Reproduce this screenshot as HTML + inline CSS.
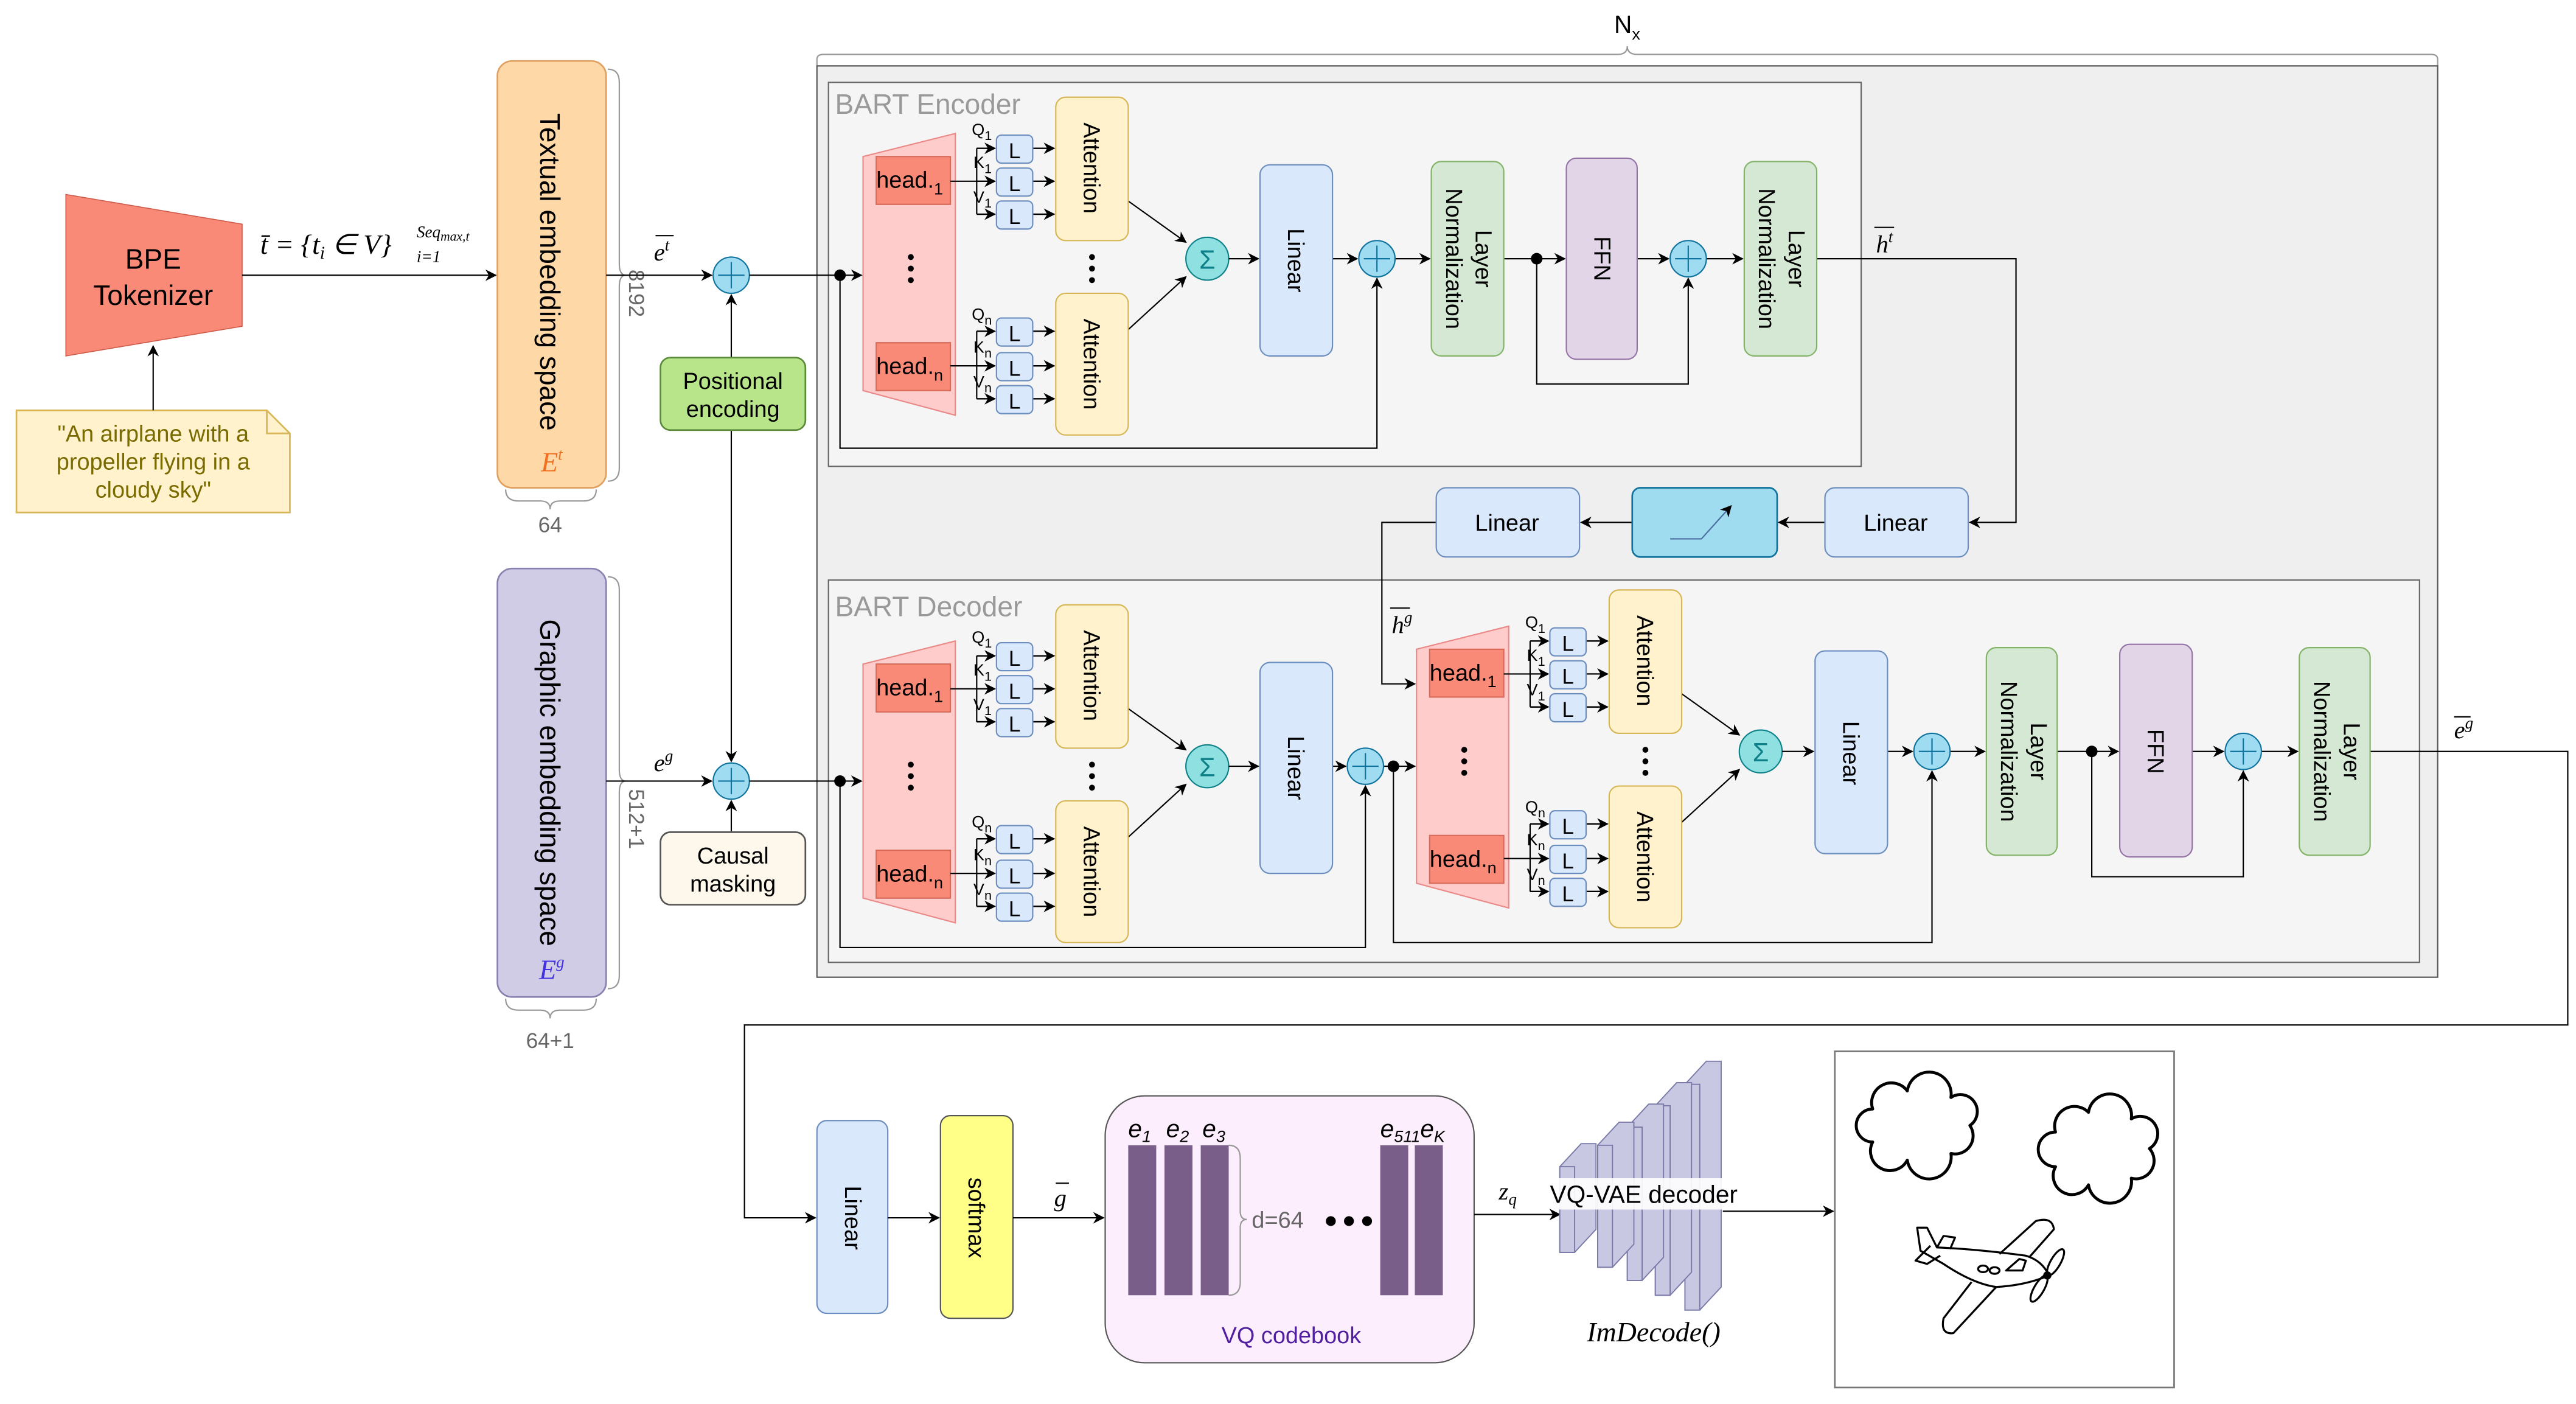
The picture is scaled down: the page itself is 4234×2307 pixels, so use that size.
<!DOCTYPE html>
<html><head><meta charset="utf-8"><style>
html,body{margin:0;padding:0;background:#fff}
svg{display:block}
text{font-family:"Liberation Sans",sans-serif}
.m{font-family:"Liberation Serif",serif;font-style:italic}
</style></head><body>
<svg width="4234" height="2307" viewBox="0 0 1564 852" preserveAspectRatio="none" xmlns="http://www.w3.org/2000/svg">
<defs>
<marker id="a" viewBox="0 0 10 10" refX="9" refY="5" markerWidth="7" markerHeight="7" markerUnits="userSpaceOnUse" orient="auto"><path d="M0,0 L10,5 L0,10 L3,5 z" fill="#000"/></marker>
<g id="blk">
 <polygon points="524,95 580,81 580,252 524,237" fill="#ffcccc" stroke="#ea8a88" stroke-width="0.8"/>
 <rect x="532" y="95" width="45" height="29" fill="#f88a77" stroke="#d86a5a" stroke-width="0.8"/>
 <rect x="532" y="208" width="45" height="29" fill="#f88a77" stroke="#d86a5a" stroke-width="0.8"/>
 <text x="532" y="114" font-size="14">head.<tspan font-size="10" dy="4">1</tspan></text>
 <text x="532" y="227" font-size="14">head.<tspan font-size="10" dy="4">n</tspan></text>
 <circle cx="553" cy="156" r="1.8"/><circle cx="553" cy="163" r="1.8"/><circle cx="553" cy="170" r="1.8"/>
 <g stroke="#000" stroke-width="0.8" fill="none">
  <path d="M577,110 H593 M593,90 V130 M577,222 H593 M593,201 V242"/>
  <path d="M593,90 H604 M593,110 H604 M593,130 H604 M593,201 H604 M593,222 H604 M593,242 H604 M627,90 H640 M627,110 H640 M627,130 H640 M627,201 H640 M627,222 H640 M627,242 H640" marker-end="url(#a)"/>
 </g>
 <g stroke="#000" stroke-width="0.8" marker-end="url(#a)">
  <line x1="593" y1="90" x2="604" y2="90"/><line x1="593" y1="110" x2="604" y2="110"/><line x1="593" y1="130" x2="604" y2="130"/>
  <line x1="593" y1="201" x2="604" y2="201"/><line x1="593" y1="222" x2="604" y2="222"/><line x1="593" y1="242" x2="604" y2="242"/>
  <line x1="627" y1="90" x2="640" y2="90"/><line x1="627" y1="110" x2="640" y2="110"/><line x1="627" y1="130" x2="640" y2="130"/>
  <line x1="627" y1="201" x2="640" y2="201"/><line x1="627" y1="222" x2="640" y2="222"/><line x1="627" y1="242" x2="640" y2="242"/>
  <line x1="685" y1="122" x2="720" y2="147"/><line x1="685" y1="200" x2="720" y2="168"/>
 </g>
 <g fill="#dae8fc" stroke="#6c8ebf" stroke-width="0.8">
  <rect x="605" y="82" width="22" height="17" rx="3"/><rect x="605" y="102" width="22" height="17" rx="3"/><rect x="605" y="122" width="22" height="17" rx="3"/>
  <rect x="605" y="193" width="22" height="17" rx="3"/><rect x="605" y="214" width="22" height="17" rx="3"/><rect x="605" y="234" width="22" height="17" rx="3"/>
 </g>
 <g font-size="13" text-anchor="middle">
  <text x="616" y="96">L</text><text x="616" y="116">L</text><text x="616" y="136">L</text>
  <text x="616" y="207">L</text><text x="616" y="228">L</text><text x="616" y="248">L</text>
 </g>
 <g font-size="10">
  <text x="590" y="82">Q<tspan font-size="8" dy="3">1</tspan></text>
  <text x="591" y="102">K<tspan font-size="8" dy="3">1</tspan></text>
  <text x="591" y="123">V<tspan font-size="8" dy="3">1</tspan></text>
  <text x="590" y="194">Q<tspan font-size="8" dy="3">n</tspan></text>
  <text x="591" y="214">K<tspan font-size="8" dy="3">n</tspan></text>
  <text x="591" y="235">V<tspan font-size="8" dy="3">n</tspan></text>
 </g>
 <rect x="641" y="59" width="44" height="87" rx="6" fill="#fff2cc" stroke="#d6b656" stroke-width="0.8"/>
 <rect x="641" y="178" width="44" height="86" rx="6" fill="#fff2cc" stroke="#d6b656" stroke-width="0.8"/>
 <text transform="translate(658,102) rotate(90)" font-size="14" text-anchor="middle">Attention</text>
 <text transform="translate(658,221) rotate(90)" font-size="14" text-anchor="middle">Attention</text>
 <circle cx="663" cy="156" r="1.8"/><circle cx="663" cy="163" r="1.8"/><circle cx="663" cy="170" r="1.8"/>
 <circle cx="733" cy="157" r="13" fill="#8fe0e0" stroke="#0e8088" stroke-width="0.8"/>
 <text x="733" y="163" font-size="16" text-anchor="middle" fill="#0e8088">Σ</text>
</g>
<g id="plus"><circle cx="0" cy="0" r="11" fill="#9fdcf2" stroke="#10739e" stroke-width="0.8"/><path d="M-8,0 H8 M0,-8 V8" stroke="#10739e" stroke-width="0.8"/></g>
</defs>

<!-- BPE + note -->
<polygon points="40,118 147,136 147,198 40,216" fill="#f98a78" stroke="#d05a4a" stroke-width="0.6"/>
<text x="93" y="163" font-size="17" text-anchor="middle">BPE</text>
<text x="93" y="185" font-size="17" text-anchor="middle">Tokenizer</text>
<path d="M10,249 H162 L176,263 V311 H10 Z" fill="#fff2cc" stroke="#d6b656"/>
<path d="M162,249 V263 H176" fill="none" stroke="#d6b656"/>
<g font-size="14" text-anchor="middle" fill="#7a6b00">
<text x="93" y="268">"An airplane with a</text><text x="93" y="285">propeller flying in a</text><text x="93" y="302">cloudy sky"</text></g>
<line x1="93" y1="249" x2="93" y2="210" stroke="#000" stroke-width="0.8" marker-end="url(#a)"/>
<line x1="147" y1="167" x2="301" y2="167" stroke="#000" stroke-width="0.8" marker-end="url(#a)"/>
<text x="158" y="154" font-size="17" class="m">t̄ = {t<tspan font-size="11" dy="3">i</tspan><tspan dy="-3"> ∈ V}</tspan></text>
<text x="253" y="144" font-size="10" class="m">Seq<tspan font-size="8" dy="2">max,t</tspan></text>
<text x="253" y="159" font-size="10" class="m">i=1</text>

<!-- textual embedding -->
<rect x="302" y="37" width="66" height="259" rx="9" fill="#ffd8a8" stroke="#e0a060"/>
<text transform="translate(328,165) rotate(90)" font-size="17" text-anchor="middle">Textual embedding space</text>
<text x="335" y="286" font-size="17" class="m" fill="#f07020" text-anchor="middle">E<tspan font-size="10" dy="-7">t</tspan></text>
<path d="M369,42 Q376,42 376,50 V160 Q376,167 380,167 Q376,167 376,174 V284 Q376,292 369,292" fill="none" stroke="#999" stroke-width="0.8"/>
<text transform="translate(382,178) rotate(90)" font-size="13" fill="#666" text-anchor="middle">8192</text>
<path d="M307,297 Q307,304 315,304 H328 Q334,304 334,309 Q334,304 340,304 H354 Q362,304 362,297" fill="none" stroke="#999" stroke-width="0.8"/>
<text x="334" y="323" font-size="13" fill="#666" text-anchor="middle">64</text>

<!-- graphic embedding -->
<rect x="302" y="345" width="66" height="260" rx="9" fill="#d0cce6" stroke="#8a80b0"/>
<text transform="translate(328,475) rotate(90)" font-size="17" text-anchor="middle">Graphic embedding space</text>
<text x="335" y="594" font-size="17" class="m" fill="#4030e0" text-anchor="middle">E<tspan font-size="10" dy="-7">g</tspan></text>
<path d="M369,350 Q376,350 376,358 V467 Q376,474 380,474 Q376,474 376,481 V592 Q376,600 369,600" fill="none" stroke="#999" stroke-width="0.8"/>
<text transform="translate(382,497) rotate(90)" font-size="13" fill="#666" text-anchor="middle">512+1</text>
<path d="M307,606 Q307,613 315,613 H328 Q334,613 334,618 Q334,613 340,613 H354 Q362,613 362,606" fill="none" stroke="#999" stroke-width="0.8"/>
<text x="334" y="636" font-size="13" fill="#666" text-anchor="middle">64+1</text>

<!-- pos enc / causal -->
<g stroke="#000" stroke-width="0.8" fill="none">
<line x1="368" y1="167" x2="432" y2="167" marker-end="url(#a)"/>
<line x1="368" y1="474" x2="432" y2="474" marker-end="url(#a)"/>
<line x1="444" y1="217" x2="444" y2="179" marker-end="url(#a)"/>
<line x1="444" y1="261" x2="444" y2="462" marker-end="url(#a)"/>
<line x1="444" y1="505" x2="444" y2="486" marker-end="url(#a)"/>
</g>
<text x="397" y="158" font-size="15" class="m">e<tspan font-size="10" dy="-6">t</tspan></text>
<line x1="398" y1="143" x2="409" y2="143" stroke="#000" stroke-width="0.8"/>
<text x="397" y="468" font-size="15" class="m">e<tspan font-size="10" dy="-6">g</tspan></text>
<rect x="401" y="217" width="88" height="44" rx="6" fill="#b9e58a" stroke="#5a8a3a"/>
<text x="445" y="236" font-size="14" text-anchor="middle">Positional</text>
<text x="445" y="253" font-size="14" text-anchor="middle">encoding</text>
<rect x="401" y="505" width="88" height="44" rx="6" fill="#fdf7ec" stroke="#555"/>
<text x="445" y="524" font-size="14" text-anchor="middle">Causal</text>
<text x="445" y="541" font-size="14" text-anchor="middle">masking</text>

<!-- Outer Nx box -->
<path d="M496,40 V36 Q496,33 500,33 H982 Q988,33 988,28 Q988,33 994,33 H1476 Q1480,33 1480,36 V40" fill="none" stroke="#999" stroke-width="0.8"/>
<text x="980" y="20" font-size="15">N<tspan font-size="10" dy="4">x</tspan></text>
<rect x="496" y="40" width="984" height="553" fill="#efefef" stroke="#555" stroke-width="0.8"/>
<rect x="503" y="50" width="627" height="233" fill="#f5f5f5" stroke="#666" stroke-width="0.8"/>
<text x="507" y="69" font-size="17" fill="#999">BART Encoder</text>
<rect x="503" y="352" width="966" height="232" fill="#f5f5f5" stroke="#666" stroke-width="0.8"/>
<text x="507" y="374" font-size="17" fill="#999">BART Decoder</text>

<!-- Plus circles -->
<use href="#plus" x="444" y="167"/><use href="#plus" x="444" y="474"/>

<!-- Encoder -->
<use href="#blk"/>
<g stroke="#000" stroke-width="0.8" fill="none">
<line x1="455" y1="167" x2="523" y2="167" marker-end="url(#a)"/>
<path d="M510,167 V272 H836 V169" marker-end="url(#a)"/>
<line x1="746" y1="157" x2="764" y2="157" marker-end="url(#a)"/>
<line x1="809" y1="157" x2="824" y2="157" marker-end="url(#a)"/>
<line x1="847" y1="157" x2="868" y2="157" marker-end="url(#a)"/>
<line x1="913" y1="157" x2="950" y2="157" marker-end="url(#a)"/>
<path d="M933,157 V233 H1025 V169" marker-end="url(#a)"/>
<line x1="994" y1="157" x2="1013" y2="157" marker-end="url(#a)"/>
<line x1="1036" y1="157" x2="1058" y2="157" marker-end="url(#a)"/>
<path d="M1103,157 H1224 V317 H1196" marker-end="url(#a)"/>
<line x1="1108" y1="317" x2="1080" y2="317" marker-end="url(#a)"/>
<line x1="991" y1="317" x2="960" y2="317" marker-end="url(#a)"/>
<path d="M872,317 H839 V415 H859" marker-end="url(#a)"/>
</g>
<circle cx="510" cy="167" r="3.5"/><circle cx="933" cy="157" r="3.5"/>
<rect x="765" y="100" width="44" height="116" rx="6" fill="#dae8fc" stroke="#6c8ebf" stroke-width="0.8"/>
<text transform="translate(782,158) rotate(90)" font-size="14" text-anchor="middle">Linear</text>
<use href="#plus" x="836" y="157"/>
<rect x="869" y="98" width="44" height="118" rx="6" fill="#d5e8d4" stroke="#82b366" stroke-width="0.8"/>
<text transform="translate(896,157) rotate(90)" font-size="14" text-anchor="middle">Layer</text>
<text transform="translate(878,157) rotate(90)" font-size="14" text-anchor="middle">Normalization</text>
<rect x="951" y="96" width="43" height="122" rx="6" fill="#e1d5e7" stroke="#9673a6" stroke-width="0.8"/>
<text transform="translate(968,157) rotate(90)" font-size="14" text-anchor="middle">FFN</text>
<use href="#plus" x="1025" y="157"/>
<rect x="1059" y="98" width="44" height="118" rx="6" fill="#d5e8d4" stroke="#82b366" stroke-width="0.8"/>
<text transform="translate(1086,157) rotate(90)" font-size="14" text-anchor="middle">Layer</text>
<text transform="translate(1068,157) rotate(90)" font-size="14" text-anchor="middle">Normalization</text>
<text x="1139" y="153" font-size="15" class="m">h<tspan font-size="10" dy="-6">t</tspan></text>
<line x1="1138" y1="138" x2="1150" y2="138" stroke="#000" stroke-width="0.8"/>

<!-- middle linear/relu -->
<rect x="1108" y="296" width="87" height="42" rx="6" fill="#dae8fc" stroke="#6c8ebf" stroke-width="0.8"/>
<text x="1151" y="322" font-size="14" text-anchor="middle">Linear</text>
<rect x="991" y="296" width="88" height="42" rx="5" fill="#a0dcf0" stroke="#10739e" stroke-width="1"/>
<path d="M1014,327 H1033 L1051,307" fill="none" stroke="#4a6ea0" stroke-width="0.8" marker-end="url(#a)"/>
<rect x="872" y="296" width="87" height="42" rx="6" fill="#dae8fc" stroke="#6c8ebf" stroke-width="0.8"/>
<text x="915" y="322" font-size="14" text-anchor="middle">Linear</text>
<text x="845" y="384" font-size="15" class="m">h<tspan font-size="10" dy="-6">g</tspan></text>
<line x1="844" y1="369" x2="856" y2="369" stroke="#000" stroke-width="0.8"/>

<!-- Decoder block 1 -->
<use href="#blk" y="308"/>
<g stroke="#000" stroke-width="0.8" fill="none">
<line x1="455" y1="474" x2="523" y2="474" marker-end="url(#a)"/>
<path d="M510,474 V575 H829 V477" marker-end="url(#a)"/>
<line x1="746" y1="465" x2="764" y2="465" marker-end="url(#a)"/>
<line x1="809" y1="465" x2="817" y2="465" marker-end="url(#a)"/>
<line x1="840" y1="465" x2="859" y2="465" marker-end="url(#a)"/>
<path d="M846,465 V572 H1173 V468" marker-end="url(#a)"/>
</g>
<circle cx="510" cy="474" r="3.5"/><circle cx="846" cy="465" r="3.5"/>
<rect x="765" y="402" width="44" height="128" rx="6" fill="#dae8fc" stroke="#6c8ebf" stroke-width="0.8"/>
<text transform="translate(782,466) rotate(90)" font-size="14" text-anchor="middle">Linear</text>
<use href="#plus" x="829" y="465"/>

<!-- Decoder block 2 -->
<use href="#blk" transform="translate(336,299)"/>
<g stroke="#000" stroke-width="0.8" fill="none">
<line x1="1082" y1="456" x2="1101" y2="456" marker-end="url(#a)"/>
<line x1="1146" y1="456" x2="1161" y2="456" marker-end="url(#a)"/>
<line x1="1184" y1="456" x2="1205" y2="456" marker-end="url(#a)"/>
<line x1="1249" y1="456" x2="1286" y2="456" marker-end="url(#a)"/>
<path d="M1270,456 V532 H1362 V468" marker-end="url(#a)"/>
<line x1="1331" y1="456" x2="1350" y2="456" marker-end="url(#a)"/>
<line x1="1373" y1="456" x2="1395" y2="456" marker-end="url(#a)"/>
<path d="M1439,456 H1559 V622 H452 V739 H495" marker-end="url(#a)"/>
</g>
<circle cx="1270" cy="456" r="3.5"/>
<rect x="1102" y="395" width="44" height="123" rx="6" fill="#dae8fc" stroke="#6c8ebf" stroke-width="0.8"/>
<text transform="translate(1119,457) rotate(90)" font-size="14" text-anchor="middle">Linear</text>
<use href="#plus" x="1173" y="456"/>
<rect x="1206" y="393" width="43" height="126" rx="6" fill="#d5e8d4" stroke="#82b366" stroke-width="0.8"/>
<text transform="translate(1233,456) rotate(90)" font-size="14" text-anchor="middle">Layer</text>
<text transform="translate(1215,456) rotate(90)" font-size="14" text-anchor="middle">Normalization</text>
<rect x="1287" y="391" width="44" height="129" rx="6" fill="#e1d5e7" stroke="#9673a6" stroke-width="0.8"/>
<text transform="translate(1304,456) rotate(90)" font-size="14" text-anchor="middle">FFN</text>
<use href="#plus" x="1362" y="456"/>
<rect x="1396" y="393" width="43" height="126" rx="6" fill="#d5e8d4" stroke="#82b366" stroke-width="0.8"/>
<text transform="translate(1423,456) rotate(90)" font-size="14" text-anchor="middle">Layer</text>
<text transform="translate(1405,456) rotate(90)" font-size="14" text-anchor="middle">Normalization</text>
<text x="1490" y="448" font-size="15" class="m">e<tspan font-size="10" dy="-6">g</tspan></text>
<line x1="1490" y1="435" x2="1500" y2="435" stroke="#000" stroke-width="0.8"/>

<!-- Bottom row -->
<rect x="496" y="680" width="43" height="117" rx="6" fill="#dae8fc" stroke="#6c8ebf" stroke-width="0.8"/>
<text transform="translate(513,739) rotate(90)" font-size="14" text-anchor="middle">Linear</text>
<line x1="539" y1="739" x2="570" y2="739" stroke="#000" stroke-width="0.8" marker-end="url(#a)"/>
<rect x="571" y="677" width="44" height="123" rx="6" fill="#ffff88" stroke="#555" stroke-width="0.8"/>
<text transform="translate(588,739) rotate(90)" font-size="14" text-anchor="middle">softmax</text>
<line x1="615" y1="739" x2="670" y2="739" stroke="#000" stroke-width="0.8" marker-end="url(#a)"/>
<text x="640" y="732" font-size="15" class="m">g</text>
<line x1="641" y1="718" x2="649" y2="718" stroke="#000" stroke-width="0.8"/>

<rect x="671" y="665" width="224" height="162" rx="24" fill="#fdeefd" stroke="#555" stroke-width="0.8"/>
<g fill="#7a5e8a">
<rect x="685" y="695" width="17" height="91"/><rect x="707" y="695" width="17" height="91"/><rect x="729" y="695" width="17" height="91"/>
<rect x="838" y="695" width="17" height="91"/><rect x="859" y="695" width="17" height="91"/>
</g>
<g font-size="15" class="m">
<text x="685" y="690">e<tspan font-size="10" dy="3">1</tspan></text>
<text x="708" y="690">e<tspan font-size="10" dy="3">2</tspan></text>
<text x="730" y="690">e<tspan font-size="10" dy="3">3</tspan></text>
<text x="838" y="690">e<tspan font-size="10" dy="3">511</tspan><tspan dy="-3">e</tspan><tspan font-size="10" dy="3">K</tspan></text>
</g>
<path d="M746,695 Q753,695 753,703 V735 Q753,740 757,740 Q753,740 753,745 V778 Q753,786 746,786" fill="none" stroke="#999" stroke-width="0.8"/>
<text x="760" y="745" font-size="14" fill="#666">d=64</text>
<circle cx="808" cy="741" r="3"/><circle cx="819" cy="741" r="3"/><circle cx="830" cy="741" r="3"/>
<text x="784" y="815" font-size="14" fill="#5020a0" text-anchor="middle">VQ codebook</text>
<line x1="895" y1="737" x2="947" y2="737" stroke="#000" stroke-width="0.8" marker-end="url(#a)"/>
<text x="910" y="728" font-size="15" class="m">z<tspan font-size="10" dy="3">q</tspan></text>

<!-- VQ-VAE slabs -->
<g fill="#c8c8e2" stroke="#7a7aa8" stroke-width="0.7">
<polygon points="1023,658 1036,644 1045,644 1045,781 1032,795 1023,795"/><rect x="1023" y="658" width="9" height="137"/>
<polygon points="1005,671 1018,657 1027,657 1027,772 1014,786 1005,786"/><rect x="1005" y="671" width="9" height="115"/>
<polygon points="988,684 1001,670 1010,670 1010,763 997,777 988,777"/><rect x="988" y="684" width="9" height="93"/>
<polygon points="970,695 983,681 992,681 992,755 979,769 970,769"/><rect x="970" y="695" width="9" height="74"/>
<polygon points="947,708 960,694 969,694 969,746 956,760 947,760"/><rect x="947" y="708" width="9" height="52"/>
</g>
<rect x="942" y="715" width="112" height="19" fill="#fff" opacity="0.9"/>
<text x="998" y="730" font-size="15" text-anchor="middle">VQ-VAE decoder</text>
<text x="1004" y="814" font-size="17" class="m" text-anchor="middle">ImDecode()</text>
<line x1="1046" y1="735" x2="1113" y2="735" stroke="#000" stroke-width="0.8" marker-end="url(#a)"/>

<!-- image -->
<rect x="1114" y="638" width="206" height="204" fill="#fff" stroke="#777" stroke-width="1"/>
<g fill="none" stroke="#000" stroke-width="1.8" stroke-linejoin="round">
<path d="M1196,683 A11,11 0 0 1 1184.5,700 A12,12 0 0 1 1158,704 A11,11 0 0 1 1137,693 A10,10 0 0 1 1137,673 A12,12 0 0 1 1158,662 A12,12 0 0 1 1184.5,666 A10,10 0 0 1 1196,683 Z"/>
<path d="M1305,697 A11,11 0 0 1 1294,715 A12,12 0 0 1 1268,719 A11,11 0 0 1 1248,708 A10,10 0 0 1 1248,687 A12,12 0 0 1 1268,675 A12,12 0 0 1 1294,679 A10,10 0 0 1 1305,697 Z"/>
</g>
<g fill="none" stroke="#000" stroke-width="1.2" stroke-linejoin="round">
<path d="M1164,745 L1170,745 L1176,757 Q1200,758 1230,762 Q1240,765 1244,774 Q1230,780 1212,781 Q1198,779 1180,767 L1166,759 Z"/>
<path d="M1214,761 L1236,741 Q1246,738 1247,746 L1232,763"/>
<path d="M1197,778 L1180,800 Q1178,810 1186,809 L1212,781"/>
<path d="M1172,756 L1163,765 L1170,767 L1178,762"/>
<path d="M1176,757 L1180,750 L1187,751 L1184,758"/>
<ellipse cx="1204" cy="770" rx="3" ry="2"/><ellipse cx="1211" cy="771" rx="3" ry="2"/>
<path d="M1218,771 H1228 L1230,765 L1226,764 Z"/>
<ellipse cx="1248" cy="766" rx="3" ry="9" transform="rotate(30 1248 766)"/>
<ellipse cx="1238" cy="782" rx="3" ry="9" transform="rotate(30 1238 782)"/>
</g>
<circle cx="1243" cy="774" r="2.5"/>
</svg>
</body></html>
